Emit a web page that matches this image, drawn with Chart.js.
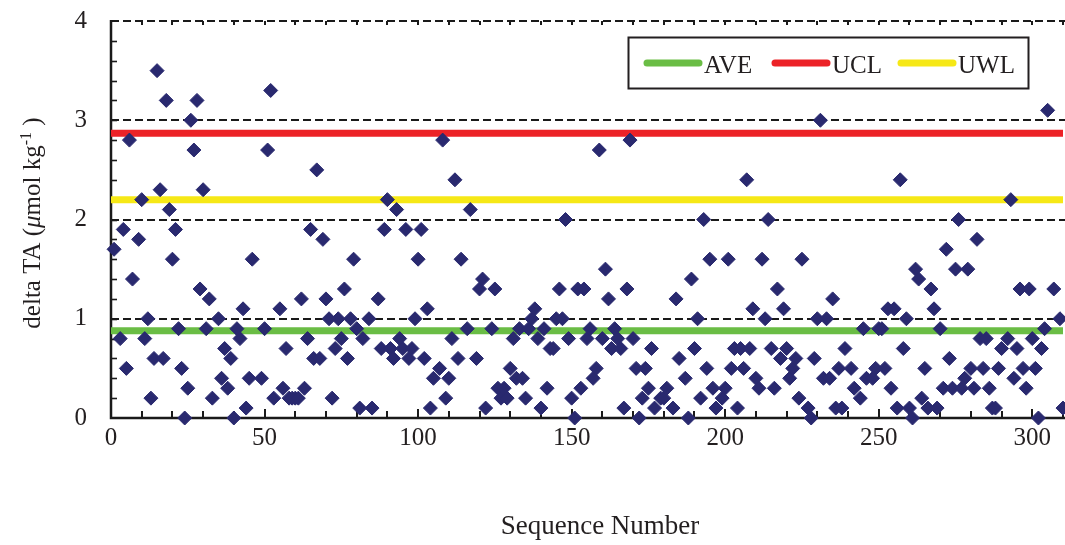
<!DOCTYPE html>
<html>
<head>
<meta charset="utf-8">
<title>delta TA control chart</title>
<script src="https://cdn.jsdelivr.net/npm/chart.js@4.4.1/dist/chart.umd.min.js"></script>
<style>
  html, body { margin: 0; padding: 0; background: #ffffff; overflow: hidden; }
  #wrap { width: 1065px; height: 545px; position: relative; }
</style>
</head>
<body>
<div id="wrap"><canvas id="chart" width="1065" height="545"></canvas></div>
<script>
// Replicate-pair differences of total alkalinity, by sequence number
const sequenceNumber = [
  1, 3, 4, 5, 6, 7, 9, 10, 11, 12, 13, 14, 15, 16, 17, 18, 19, 20, 21, 22, 23, 24, 25, 26, 27, 28, 29, 30, 31, 32, 33,
  35, 36, 37, 38, 39, 40, 41, 42, 43, 44, 45, 46,
  49, 50, 51, 52, 53, 55, 56, 57, 58, 59, 60, 61, 62, 63, 64, 65, 66, 67, 68, 69, 70, 71, 72, 73, 74, 75, 76, 77, 78, 79, 80, 81, 82,
  84, 85, 87, 88, 89, 90, 91, 92, 93, 94, 95, 96, 97, 98, 99,
  100, 101, 102, 103, 104, 105, 107, 108, 109, 110, 111, 112, 113, 114, 116, 117, 119, 120, 121, 122,
  124, 125, 126, 127, 128, 129, 130, 131, 132, 133, 134, 135, 136, 137, 138, 139, 140, 141, 142, 143, 144, 145, 146, 147, 148, 149, 150, 151, 152, 153, 154,
  155, 156, 157, 158, 159, 160, 161, 162, 163, 164, 165, 166, 167, 168, 169, 170, 171, 172, 173, 174, 175, 176, 177, 179, 180, 181, 183, 184, 185, 187, 188, 189, 190, 191, 192, 193, 194, 195, 196, 197, 199,
  200, 201, 202, 203, 204, 205, 206, 207, 208, 209, 210, 211, 212, 213, 214, 215, 216, 217, 218, 219, 220, 221, 222, 223, 224, 225, 227, 228, 229, 230, 231, 232, 233, 234, 235, 236, 237, 238, 239, 241, 242, 244, 245, 246, 248, 249,
  250, 251, 252, 253, 254, 255, 256, 257, 258, 259, 260, 261, 262, 263, 264, 265, 266, 267, 268, 269, 270, 271, 272, 273, 274, 275, 276, 277, 278, 279,
  280, 281, 282, 283, 284, 285, 286, 287, 288, 289, 290, 292, 293, 294, 295, 296, 297, 298, 299, 300, 301, 302, 303, 304, 305, 307, 309, 310, 311
];
const deltaTA = [
  1.7, 0.8, 1.9, 0.5, 2.8, 1.4, 1.8, 2.2, 0.8, 1.0, 0.2, 0.6, 3.5, 2.3, 0.6, 3.2, 2.1, 1.6, 1.9, 0.9, 0.5, 0.0, 0.3, 3.0, 2.7, 3.2, 1.3, 2.3, 0.9, 1.2, 0.2,
  1.0, 0.4, 0.7, 0.3, 0.6, 0.0, 0.9, 0.8, 1.1, 0.1, 0.4, 1.6,
  0.4, 0.9, 2.7, 3.3, 0.2, 1.1, 0.3, 0.7, 0.2, 0.2, 0.2, 0.2, 1.2, 0.3, 0.8, 1.9, 0.6, 2.5, 0.6, 1.8, 1.2, 1.0, 0.2, 0.7, 1.0, 0.8, 1.3, 0.6, 1.0, 1.6, 0.9, 0.1, 0.8,
  1.0, 0.1, 1.2, 0.7, 1.9, 2.2, 0.7, 0.6, 2.1, 0.8, 0.7, 1.9, 0.6, 0.7, 1.0,
  1.6, 1.9, 0.6, 1.1, 0.1, 0.4, 0.5, 2.8, 0.2, 0.4, 0.8, 2.4, 0.6, 1.6, 0.9, 2.1, 0.6, 1.3, 1.4, 0.1,
  0.9, 1.3, 0.3, 0.2, 0.3, 0.2, 0.5, 0.8, 0.4, 0.9, 0.4, 0.2, 0.9, 1.0, 1.1, 0.8, 0.1, 0.9, 0.3, 0.7, 0.7, 1.0, 1.3, 1.0, 2.0, 0.8, 0.2, 0.0, 1.3, 0.3, 1.3,
  0.8, 0.9, 0.4, 0.5, 2.7, 0.8, 1.5, 1.2, 0.7, 0.9, 0.8, 0.7, 0.1, 1.3, 2.8, 0.8, 0.5, 0.0, 0.2, 0.5, 0.3, 0.7, 0.1, 0.2, 0.2, 0.3, 0.1, 1.2, 0.6, 0.4, 0.0, 1.4, 0.7, 1.0, 0.2, 2.0, 0.5, 1.6, 0.3, 0.1, 0.2,
  0.3, 1.6, 0.5, 0.7, 0.1, 0.7, 0.5, 2.4, 0.7, 1.1, 0.4, 0.3, 1.6, 1.0, 2.0, 0.7, 0.3, 1.3, 0.6, 1.1, 0.7, 0.4, 0.5, 0.6, 0.2, 1.6, 0.1, 0.0, 0.6, 1.0, 3.0, 0.4, 1.0, 0.4, 1.2, 0.1, 0.5, 0.1, 0.7, 0.5, 0.3, 0.2, 0.9, 0.4, 0.4, 0.5,
  0.9, 0.9, 0.5, 1.1, 0.3, 1.1, 0.1, 2.4, 0.7, 1.0, 0.1, 0.0, 1.5, 1.4, 0.2, 0.5, 0.1, 1.3, 1.1, 0.1, 0.9, 0.3, 1.7, 0.6, 0.3, 1.5, 2.0, 0.3, 0.4, 1.5,
  0.5, 0.3, 1.8, 0.8, 0.5, 0.8, 0.3, 0.1, 0.1, 0.5, 0.7, 0.8, 2.2, 0.4, 0.7, 1.3, 0.5, 0.3, 1.3, 0.8, 0.5, 0.0, 0.7, 0.9, 3.1, 1.3, 1.0, 0.1, 1.2
];

// Control limits
const average = 0.88;             // AVE
const upperControlLimit = 2.87;   // UCL
const upperWarningLimit = 2.20;   // UWL

// Axis settings
const xRange = [0, 310];
const xTickLabels = [0, 50, 100, 150, 200, 250, 300];
const yRange = [0, 4];
const yTickLabels = [0, 1, 2, 3, 4];
const xTitle = 'Sequence Number';

const SERIF = '"Liberation Serif", "Times New Roman", "DejaVu Serif", serif';
const INK = '#231f20';
const MARKER = '#29296f';

const points = sequenceNumber.map((s, i) => ({ x: s, y: deltaTA[i] }));
const limitLine = (v) => [{ x: xRange[0], y: v }, { x: xRange[1], y: v }];

// Frame, dashed grid, minor ticks, y labels and axis titles
const framePlugin = {
  id: 'frame',
  beforeDatasetsDraw(chart) {
    const { ctx, chartArea: a, scales: { x, y } } = chart;
    ctx.save();
    // dashed horizontal grid at integer values
    ctx.strokeStyle = '#1a1a1a';
    ctx.lineWidth = 2;
    ctx.setLineDash([8, 4]);
    for (let v = 1; v <= 4; v++) {
      const py = Math.round(y.getPixelForValue(v));
      ctx.beginPath();
      ctx.moveTo(a.left, py);
      ctx.lineTo(a.right + 2, py);
      ctx.stroke();
    }
    ctx.setLineDash([]);
    // minor y ticks (inside)
    ctx.lineWidth = 1.6;
    for (let k = 1; k < 20; k++) {
      const py = Math.round(y.getPixelForValue(k * 0.2)) + 0.5;
      ctx.beginPath();
      ctx.moveTo(a.left, py);
      ctx.lineTo(a.left + 6, py);
      ctx.stroke();
    }
    // x ticks (inside), longer every 50
    ctx.lineWidth = 2;
    for (let s = 10; s <= xRange[1]; s += 10) {
      const px = Math.round(x.getPixelForValue(s));
      const len = s % 50 === 0 ? 9 : 7;
      ctx.beginPath();
      ctx.moveTo(px, a.bottom);
      ctx.lineTo(px, a.bottom - len);
      ctx.stroke();
      ctx.beginPath();
      ctx.moveTo(px, a.top);
      ctx.lineTo(px, a.top + 4);
      ctx.stroke();
    }
    // axis lines
    ctx.lineWidth = 2.5;
    ctx.beginPath();
    ctx.moveTo(a.left, a.top - 1);
    ctx.lineTo(a.left, a.bottom);
    ctx.lineTo(a.right + 2, a.bottom);
    ctx.stroke();
    // y tick labels
    ctx.fillStyle = INK;
    ctx.font = '25px ' + SERIF;
    ctx.textAlign = 'right';
    ctx.textBaseline = 'middle';
    yTickLabels.forEach(v => ctx.fillText(String(v), a.left - 24, y.getPixelForValue(v)));
    ctx.restore();
  },
  afterDraw(chart) {
    const { ctx } = chart;
    ctx.save();
    ctx.fillStyle = INK;
    // x title
    ctx.font = '27px ' + SERIF;
    ctx.textAlign = 'center';
    ctx.textBaseline = 'middle';
    ctx.fillText(xTitle, 600, 527);
    // y title with italic mu and superscript
    const parts = [
      { t: 'delta TA (', f: '25px ' + SERIF, dy: 0 },
      { t: '\u03bc', f: 'italic 25px ' + SERIF, dy: 0 },
      { t: 'mol kg', f: '25px ' + SERIF, dy: 0 },
      { t: '-1', f: '16px ' + SERIF, dy: -9 },
      { t: ' )', f: '25px ' + SERIF, dy: 0 }
    ];
    let total = 0;
    parts.forEach(p => { ctx.font = p.f; p.w = ctx.measureText(p.t).width; total += p.w; });
    ctx.translate(40, 223);
    ctx.rotate(-Math.PI / 2);
    ctx.textAlign = 'left';
    ctx.textBaseline = 'alphabetic';
    let cx = -total / 2;
    parts.forEach(p => { ctx.font = p.f; ctx.fillText(p.t, cx, p.dy); cx += p.w; });
    ctx.restore();

    // legend box
    ctx.save();
    ctx.strokeStyle = INK;
    ctx.lineWidth = 2;
    ctx.strokeRect(628.5, 37.5, 400, 51);
    const items = chart.data.datasets.filter(d => d.legendX !== undefined);
    ctx.lineCap = 'round';
    ctx.font = '25px ' + SERIF;
    ctx.textAlign = 'left';
    ctx.textBaseline = 'alphabetic';
    items.forEach(d => {
      ctx.strokeStyle = d.borderColor;
      ctx.lineWidth = 7;
      ctx.beginPath();
      ctx.moveTo(d.legendX, 63);
      ctx.lineTo(d.legendX + 52, 63);
      ctx.stroke();
      ctx.fillStyle = INK;
      ctx.fillText(d.label, d.legendX + 57, 73);
    });
    ctx.restore();
  }
};

new Chart(document.getElementById('chart'), {
  type: 'scatter',
  data: {
    datasets: [
      {
        label: 'delta TA',
        data: points,
        pointStyle: 'rectRot',
        pointRadius: 7,
        pointHoverRadius: 7,
        backgroundColor: MARKER,
        borderColor: MARKER,
        borderWidth: 1,
        clip: false,
        order: 0
      },
      {
        type: 'line', label: 'AVE', data: limitLine(average),
        borderColor: '#6abd45', borderWidth: 7, borderCapStyle: 'round',
        pointRadius: 0, showLine: true, order: 1, legendX: 647
      },
      {
        type: 'line', label: 'UCL', data: limitLine(upperControlLimit),
        borderColor: '#ec2227', borderWidth: 7, borderCapStyle: 'round',
        pointRadius: 0, showLine: true, order: 1, legendX: 775
      },
      {
        type: 'line', label: 'UWL', data: limitLine(upperWarningLimit),
        borderColor: '#f6e816', borderWidth: 7, borderCapStyle: 'round',
        pointRadius: 0, showLine: true, order: 1, legendX: 901
      }
    ]
  },
  options: {
    responsive: false,
    animation: false,
    devicePixelRatio: 1,
    layout: { autoPadding: false, padding: { top: 21, right: 2, left: 0, bottom: 0 } },
    plugins: { legend: { display: false }, tooltip: { enabled: false } },
    scales: {
      x: {
        type: 'linear',
        min: xRange[0],
        max: xRange[1],
        afterBuildTicks: (s) => { s.ticks = xTickLabels.map(v => ({ value: v })); },
        afterFit: (s) => { s.height = 127; },
        grid: { display: false, drawTicks: false },
        border: { display: false },
        ticks: { color: INK, font: { family: SERIF, size: 25 }, padding: 5, maxRotation: 0 }
      },
      y: {
        type: 'linear',
        min: yRange[0],
        max: yRange[1],
        afterBuildTicks: (s) => { s.ticks = yTickLabels.map(v => ({ value: v })); },
        afterFit: (s) => { s.width = 111; },
        grid: { display: false, drawTicks: false },
        border: { display: false },
        ticks: { display: false }
      }
    }
  },
  plugins: [framePlugin]
});
</script>
</body>
</html>
